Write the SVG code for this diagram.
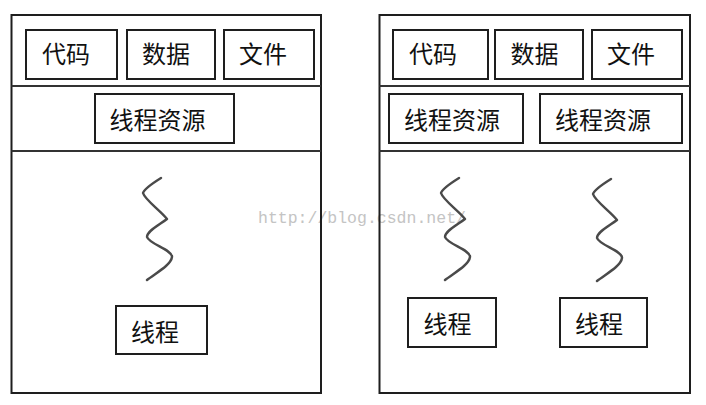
<svg xmlns="http://www.w3.org/2000/svg" xmlns:xlink="http://www.w3.org/1999/xlink" width="706" height="405" viewBox="0 0 706 405">
<style>
.box{fill:none;stroke:#1e1e1e;stroke-width:2}
.sep{stroke:#333;stroke-width:2}
.lbl{font-family:"Noto Sans CJK SC","Noto Sans CJK TC",sans-serif;font-size:24px;fill:#111;text-anchor:middle}
.wm{font-family:"Liberation Mono",monospace;font-size:16.5px;fill:#c4c4c4}
.sq{fill:none;stroke:#4a4a4a;stroke-width:2.4;stroke-linecap:round;stroke-linejoin:round}
</style>
<defs>
<path id="squiggle" class="sq" d="M0,0 C-8,5 -17,11 -18,15 C-16,22 0,33 6,41 C-2,47 -14,53 -14,59 C-12,66 12,72 11,79 C10,87 -5,95 -14,102"/>
</defs>
<rect width="706" height="405" fill="#fff"/>
<text class="wm" x="258" y="223">http://blog.csdn.net/</text>

<g id="process-left">
<rect class="box" x="11.5" y="15" width="309.5" height="378"/>
<line class="sep" x1="11.5" y1="86" x2="321" y2="86"/>
<line class="sep" x1="11.5" y1="151" x2="321" y2="151"/>
</g>
<g id="left-code"><rect class="box" x="26" y="30" width="91" height="49"/><text class="lbl" x="66" y="63">代码</text></g>
<g id="left-data"><rect class="box" x="127" y="30" width="88" height="49"/><text class="lbl" x="166" y="63">数据</text></g>
<g id="left-file"><rect class="box" x="224" y="30" width="90" height="49"/><text class="lbl" x="263" y="63">文件</text></g>
<g id="left-res"><rect class="box" x="95" y="94" width="139" height="49"/><text class="lbl" x="157.5" y="129">线程资源</text></g>
<g id="left-thread"><rect class="box" x="116" y="306" width="91" height="48"/><text class="lbl" x="155" y="341">线程</text></g>

<g id="process-right">
<rect class="box" x="379.5" y="15" width="310.5" height="378"/>
<line class="sep" x1="379.5" y1="86" x2="690" y2="86"/>
<line class="sep" x1="379.5" y1="151" x2="690" y2="151"/>
</g>
<g id="right-code"><rect class="box" x="393" y="30" width="95" height="49"/><text class="lbl" x="433" y="63">代码</text></g>
<g id="right-data"><rect class="box" x="495" y="30" width="88" height="49"/><text class="lbl" x="534.5" y="63">数据</text></g>
<g id="right-file"><rect class="box" x="592" y="30" width="90" height="49"/><text class="lbl" x="631" y="63">文件</text></g>
<g id="right-res1"><rect class="box" x="389" y="94" width="134" height="49"/><text class="lbl" x="452" y="129">线程资源</text></g>
<g id="right-res2"><rect class="box" x="540" y="94" width="142" height="49"/><text class="lbl" x="603" y="129">线程资源</text></g>
<g id="right-thread1"><rect class="box" x="408" y="298" width="88" height="49"/><text class="lbl" x="447.5" y="333">线程</text></g>
<g id="right-thread2"><rect class="box" x="560" y="298" width="87" height="49"/><text class="lbl" x="599" y="333">线程</text></g>

<g id="threads">
<use xlink:href="#squiggle" href="#squiggle" transform="translate(161,178)"/>
<use xlink:href="#squiggle" href="#squiggle" transform="translate(459,178)"/>
<use xlink:href="#squiggle" href="#squiggle" transform="translate(611,179)"/>
</g>
</svg>
